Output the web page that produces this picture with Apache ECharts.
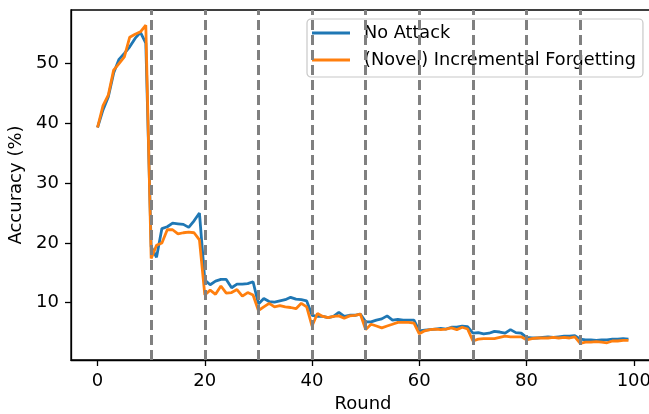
<!DOCTYPE html>
<html>
<head>
<meta charset="utf-8">
<script src="https://cdn.jsdelivr.net/npm/echarts@6/dist/echarts.min.js"></script>
<style>
html,body{margin:0;padding:0;background:#fff;}
#chart{width:649px;height:414px;}
</style>
</head>
<body>
<div id="chart"></div>
<script>
const rounds = Array.from({length: 100}, (_, i) => i);
const noAttack = [
  39.3, 42.2, 44.4, 48.4, 50.7, 51.7, 52.8, 54.2, 55.2, 53.4,
  19.4, 17.6, 22.4, 22.7, 23.3, 23.2, 23.1, 22.6, 23.7, 25.0,
  13.8, 13.0, 13.6, 13.9, 13.9, 12.5, 13.1, 13.1, 13.2, 13.5,
  9.8, 10.7, 10.2, 10.1, 10.3, 10.5, 10.9, 10.6, 10.5, 10.3,
  7.9, 7.7, 7.7, 7.5, 7.7, 8.4, 7.7, 7.9, 7.9, 8.1,
  6.8, 6.8, 7.1, 7.3, 7.8, 7.1, 7.2, 7.1, 7.1, 7.1,
  5.3, 5.4, 5.5, 5.6, 5.7, 5.6, 5.9, 5.9, 6.1, 6.0,
  4.9, 5.0, 4.8, 4.9, 5.2, 5.1, 4.9, 5.5, 5.0, 4.9,
  4.2, 4.1, 4.1, 4.2, 4.3, 4.2, 4.3, 4.4, 4.4, 4.5,
  3.9, 3.8, 3.8, 3.7, 3.8, 3.8, 3.9, 3.9, 4.0, 3.9
];
const incrementalForgetting = [
  39.3, 42.9, 44.7, 48.9, 50.0, 51.1, 54.4, 54.9, 55.3, 56.4,
  17.4, 19.6, 20.0, 22.2, 22.2, 21.5, 21.7, 21.8, 21.7, 20.5,
  11.3, 12.1, 11.4, 12.8, 11.6, 11.7, 12.2, 11.1, 11.7, 11.3,
  8.7, 9.3, 9.9, 9.3, 9.5, 9.3, 9.2, 9.0, 9.9, 9.3,
  6.1, 8.2, 7.7, 7.5, 7.7, 7.8, 7.4, 7.8, 7.9, 8.1,
  5.5, 6.4, 6.1, 5.8, 6.1, 6.4, 6.7, 6.7, 6.7, 6.6,
  4.8, 5.3, 5.5, 5.6, 5.5, 5.6, 5.8, 5.5, 5.9, 5.6,
  3.6, 3.9, 4.0, 4.0, 4.0, 4.2, 4.4, 4.3, 4.3, 4.3,
  3.8, 4.0, 4.1, 4.1, 4.1, 4.2, 4.1, 4.2, 4.1, 4.3,
  3.2, 3.4, 3.4, 3.5, 3.4, 3.3, 3.6, 3.6, 3.7, 3.7
];
const seriesNames = ['No Attack', '(Novel) Incremental Forgetting'];
const xTicks = [0, 20, 40, 60, 80, 100];
const yTicks = [10, 20, 30, 40, 50];
const taskBoundaries = [10, 20, 30, 40, 50, 60, 70, 80, 90];

const FONT = 'DejaVu Sans';
const FS = 18;
const chart = echarts.init(document.getElementById('chart'), null, {renderer: 'canvas'});
chart.setOption({
  animation: false,
  backgroundColor: '#ffffff',
  grid: {
    left: 71, top: 10, right: -6, bottom: 54,
    outerBoundsMode: 'none',
    containLabel: false,
    show: true, borderColor: '#000', borderWidth: 1.3, backgroundColor: 'transparent'
  },
  legend: {
    left: 307, top: 19,
    orient: 'vertical',
    data: seriesNames,
    itemWidth: 38, itemHeight: 17, itemGap: 9,
    padding: [5, 7, 8, 5],
    backgroundColor: 'rgba(255,255,255,0.8)',
    borderColor: '#c8c8c8', borderWidth: 1.2, borderRadius: 4,
    textStyle: {fontFamily: FONT, fontSize: 17.7, color: '#000', padding: [0, 0, 0, 9]},
    icon: 'path://M0,0 L38,0 L38,2.8 L0,2.8 Z'
  },
  xAxis: {
    type: 'value', min: -4.95, max: 103.95,
    name: 'Round', nameLocation: 'middle', nameGap: 35,
    nameTextStyle: {fontFamily: FONT, fontSize: FS, color: '#000'},
    axisLine: {show: true, onZero: false, lineStyle: {color: '#000', width: 1.3}},
    axisTick: {show: true, length: 6, lineStyle: {color: '#000', width: 1.3}, customValues: xTicks},
    axisLabel: {fontFamily: FONT, fontSize: FS, color: '#000', margin: 12, customValues: xTicks},
    splitLine: {show: false}
  },
  yAxis: {
    type: 'value', min: 0.42, max: 58.95,
    name: 'Accuracy (%)', nameLocation: 'middle', nameGap: 42, nameRotate: 90,
    nameTextStyle: {fontFamily: FONT, fontSize: FS, color: '#000'},
    axisLine: {show: true, onZero: false, lineStyle: {color: '#000', width: 1.3}},
    axisTick: {show: true, length: 6, lineStyle: {color: '#000', width: 1.3}, customValues: yTicks},
    axisLabel: {fontFamily: FONT, fontSize: FS, color: '#000', margin: 12, customValues: yTicks},
    splitLine: {show: false}
  },
  series: [
    {
      name: seriesNames[0], type: 'line', symbol: 'none',
      data: rounds.map((r, i) => [r, noAttack[i]]),
      lineStyle: {color: '#1f77b4', width: 2.8},
      itemStyle: {color: '#1f77b4'},
      z: 2
    },
    {
      name: seriesNames[1], type: 'line', symbol: 'none',
      data: rounds.map((r, i) => [r, incrementalForgetting[i]]),
      lineStyle: {color: '#ff7f0e', width: 2.8},
      itemStyle: {color: '#ff7f0e'},
      z: 3,
      markLine: {
        silent: true, symbol: 'none', animation: false,
        label: {show: false},
        lineStyle: {color: '#808080', width: 3, type: [10, 5]},
        data: taskBoundaries.map(v => ({xAxis: v}))
      }
    }
  ]
});
</script>
</body>
</html>
